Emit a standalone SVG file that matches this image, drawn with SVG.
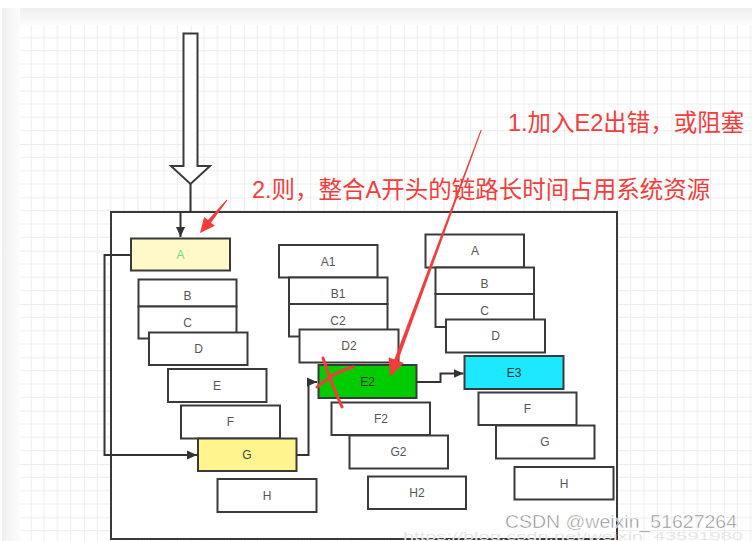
<svg xmlns="http://www.w3.org/2000/svg" width="752" height="541" viewBox="0 0 752 541">
<defs>
  <pattern id="grid" patternUnits="userSpaceOnUse" x="30.67" y="37.33" width="53.333" height="53.333">
    <path d="M0,0V53.333M13.333,0V53.333M26.667,0V53.333M40,0V53.333M0,0H53.333M0,13.333H53.333M0,26.667H53.333M0,40H53.333" stroke="#ededed" stroke-width="1" fill="none"/>
    <path d="M0,0V53.333M0,0H53.333" stroke="#e3e3e3" stroke-width="1" fill="none"/>
  </pattern>
  <linearGradient id="topband" x1="0" y1="0" x2="0" y2="1">
    <stop offset="0" stop-color="#efefef"/>
    <stop offset="1" stop-color="#fcfcfc"/>
  </linearGradient>
  <linearGradient id="leftband" x1="0" y1="0" x2="1" y2="0">
    <stop offset="0" stop-color="#efefef"/>
    <stop offset="1" stop-color="#fcfcfc"/>
  </linearGradient>
  <marker id="arr" viewBox="0 0 10 10" refX="10" refY="5" markerWidth="10" markerHeight="10" markerUnits="userSpaceOnUse" orient="auto">
    <path d="M0,0.5L10,5L0,9.5Z" fill="#333"/>
  </marker>
  <style>
    .node rect{stroke:#3a3a3a;stroke-width:2;fill:#ffffff}
    .node text{font-family:"Liberation Sans",Arial,sans-serif;font-size:12px;fill:#555;text-anchor:middle;dominant-baseline:central}
    .conn path{fill:none;stroke:#333;stroke-width:2}
    .ann{font-family:"Liberation Sans","Noto Sans CJK SC",sans-serif;font-size:23.5px;fill:#f53c3c}
    .red{fill:#f53c3c}
    .x{fill:none;stroke:#f53c3c;stroke-width:3;stroke-linecap:round}
  </style>
</defs>
<rect width="752" height="541" fill="#ffffff"/>
<rect x="2" y="8" width="750" height="17" fill="url(#topband)"/>
<rect x="2" y="8" width="18" height="533" fill="url(#leftband)"/>
<rect x="20" y="25" width="732" height="516" fill="#ffffff"/>
<rect x="20" y="25" width="732" height="516" fill="url(#grid)"/>

<!-- big hollow arrow -->
<g id="bigarrow">
  <path d="M183.5,33.5H197.5V166H210L190.5,184L171,166H183.5Z" fill="#ffffff" stroke="#3a3a3a" stroke-width="2" stroke-linejoin="miter"/>
</g>

<!-- outer container -->
<g id="container">
  <rect x="111" y="212" width="506" height="327" fill="#ffffff" stroke="#3a3a3a" stroke-width="2"/>
</g>

<!-- left column -->
<g id="nA" class="node"><rect x="131" y="238.5" width="99" height="32" style="fill:#fff9c9"/><text x="180.5" y="254.5" style="fill:#7ad77a">A</text></g>
<g id="nB" class="node"><rect x="138.5" y="279.5" width="98" height="27"/><text x="187.5" y="296">B</text></g>
<g id="nC" class="node"><rect x="138.5" y="306.5" width="98" height="32"/><text x="187.5" y="323">C</text></g>
<g id="nD" class="node"><rect x="149" y="332.5" width="98.5" height="32.5"/><text x="198.5" y="349">D</text></g>
<g id="nE" class="node"><rect x="168" y="369" width="98.5" height="33"/><text x="217" y="385.5">E</text></g>
<g id="nF" class="node"><rect x="181" y="405.5" width="99" height="33"/><text x="230.5" y="422">F</text></g>
<g id="nG" class="node"><rect x="198" y="438.5" width="98.5" height="32.5" style="fill:#fff48e"/><text x="247" y="455" style="fill:#444">G</text></g>
<g id="nH" class="node"><rect x="217.5" y="479" width="99" height="33"/><text x="267" y="495.5">H</text></g>

<!-- middle column -->
<g id="nA1" class="node"><rect x="279" y="245" width="98.5" height="32.5"/><text x="328" y="261.5">A1</text></g>
<g id="nB1" class="node"><rect x="289" y="277.5" width="98.5" height="26.5"/><text x="338" y="294">B1</text></g>
<g id="nC2" class="node"><rect x="289" y="304" width="98.5" height="32.5"/><text x="338" y="321">C2</text></g>
<g id="nD2" class="node"><rect x="299.5" y="329.5" width="99" height="33"/><text x="349" y="346">D2</text></g>
<g id="nE2" class="node"><rect x="318.5" y="365" width="98" height="33" style="fill:#00cc00"/><text x="367.5" y="382" style="fill:#333">E2</text></g>
<g id="nF2" class="node"><rect x="331.5" y="402.5" width="98.5" height="32.5"/><text x="381" y="419">F2</text></g>
<g id="nG2" class="node"><rect x="349.5" y="435.5" width="98.5" height="33"/><text x="398.5" y="452">G2</text></g>
<g id="nH2" class="node"><rect x="368" y="476.5" width="98" height="32.5"/><text x="417" y="493">H2</text></g>

<!-- right column -->
<g id="rA" class="node"><rect x="425.5" y="234.5" width="98.5" height="33"/><text x="475" y="251">A</text></g>
<g id="rB" class="node"><rect x="435.5" y="267.5" width="98.5" height="26.5"/><text x="484.5" y="284">B</text></g>
<g id="rC" class="node"><rect x="435.5" y="294" width="98.5" height="33"/><text x="484.5" y="311">C</text></g>
<g id="rD" class="node"><rect x="446" y="319.5" width="99" height="33"/><text x="495.5" y="336">D</text></g>
<g id="rE3" class="node"><rect x="464.5" y="356" width="99" height="33" style="fill:#1ce8ff"/><text x="514" y="373" style="fill:#333">E3</text></g>
<g id="rF" class="node"><rect x="478.5" y="392.5" width="98" height="32.5"/><text x="527.5" y="409">F</text></g>
<g id="rG" class="node"><rect x="496" y="425.5" width="98.5" height="33"/><text x="545" y="442">G</text></g>
<g id="rH" class="node"><rect x="514.5" y="467" width="99" height="32.5"/><text x="564" y="483.5">H</text></g>

<!-- connectors -->
<g id="connectors" class="conn">
  <path d="M190.5,184V212H180.5V237" marker-end="url(#arr)"/>
  <path d="M131,255H104.5V455H197" marker-end="url(#arr)"/>
  <path d="M296.5,455H308.5V382H317" marker-end="url(#arr)"/>
  <path d="M416.5,382H440.5V373.5H463.5" marker-end="url(#arr)"/>
</g>

<!-- red annotations -->
<g id="annotations">
  <text class="ann" x="508" y="131">1.加入E2出错，或阻塞</text>
  <text class="ann" x="252" y="198">2.则，整合A开头的链路长时间占用系统资源</text>
  <polygon class="red" points="481.7,130.2 480.7,129.8 394.3,359.4 388.7,357.3 390,377 403.7,362.9 398.1,360.8"/>
  <polygon class="red" points="227.3,200.4 226.7,199.6 208,220 204.1,217 200,233 214.9,225.8 211,222.8"/>
  <path class="x" d="M323,358Q332,385 342,407"/>
  <path class="x" d="M317,387Q334,372 353,367"/>
</g>

<!-- watermark -->
<g id="watermark">
  <text x="505" y="528" textLength="232" lengthAdjust="spacingAndGlyphs" style="font-family:'Liberation Sans',Arial,sans-serif;font-size:18px;fill:#8a8a8a;stroke:#ffffff;stroke-width:0.5">CSDN @weixin_51627264</text>
  <text x="403" y="540" textLength="340" lengthAdjust="spacingAndGlyphs" style="font-family:'Liberation Sans',Arial,sans-serif;font-size:11px;fill:#e6e6e6">https://blog.csdn.net/weixin_43591980</text>
</g>
</svg>
